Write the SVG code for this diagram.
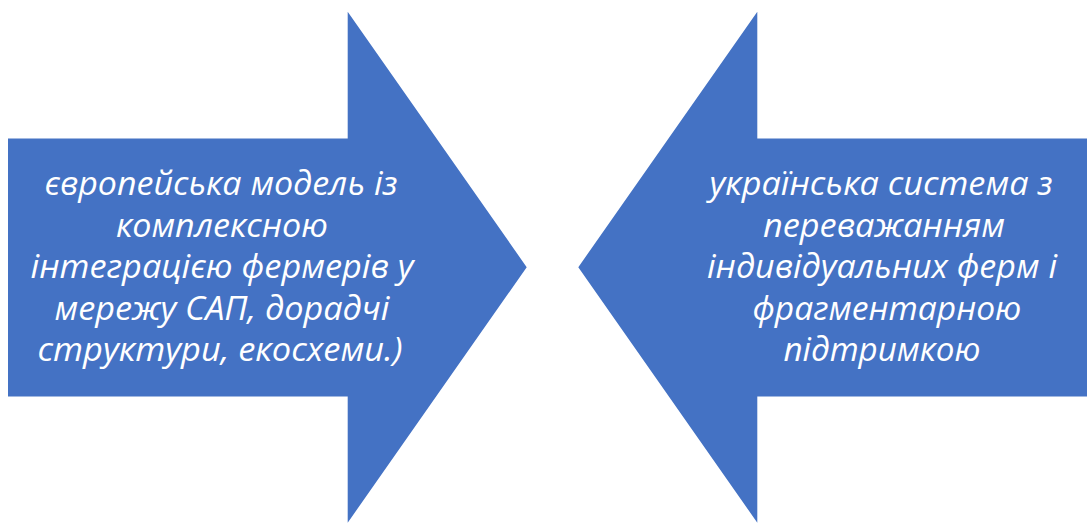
<svg xmlns="http://www.w3.org/2000/svg" width="1087" height="523" viewBox="0 0 1087 523">
<style>
.arrow{fill:#4472C4;}
.t{font-family:"Open Sans","Liberation Sans",sans-serif;font-style:italic;font-size:33px;fill:#FFFFFF;text-anchor:middle;}
</style>
<rect width="1087" height="523" fill="#FFFFFF"/>
<g id="node-left">
<polygon class="arrow" points="8,138.5 347.7,138.5 347.7,11.7 526.7,267.2 347.7,522.7 347.7,396.5 8,396.5"/>
<text class="t"><tspan x="221" y="195" textLength="353" lengthAdjust="spacingAndGlyphs">європейська модель із</tspan><tspan x="222" y="237" textLength="212" lengthAdjust="spacingAndGlyphs">комплексною</tspan><tspan x="222" y="278" textLength="383" lengthAdjust="spacingAndGlyphs">інтеграцією фермерів у</tspan><tspan x="222" y="320" textLength="335" lengthAdjust="spacingAndGlyphs">мережу САП, дорадчі</tspan><tspan x="220" y="361" textLength="365" lengthAdjust="spacingAndGlyphs">структури, екосхеми.)</tspan></text>
</g>
<g id="node-right">
<polygon class="arrow" points="1087,138.5 757.3,138.5 757.3,11.7 578.3,267.2 757.3,522.7 757.3,396.5 1087,396.5"/>
<text class="t"><tspan x="881" y="195" textLength="343" lengthAdjust="spacingAndGlyphs">українська система з</tspan><tspan x="884" y="237" textLength="242" lengthAdjust="spacingAndGlyphs">переважанням</tspan><tspan x="882" y="278" textLength="350" lengthAdjust="spacingAndGlyphs">індивідуальних ферм і</tspan><tspan x="887" y="320" textLength="269" lengthAdjust="spacingAndGlyphs">фрагментарною</tspan><tspan x="882" y="361" textLength="197" lengthAdjust="spacingAndGlyphs">підтримкою</tspan></text>
</g>
<g id="connectors"></g>
</svg>
